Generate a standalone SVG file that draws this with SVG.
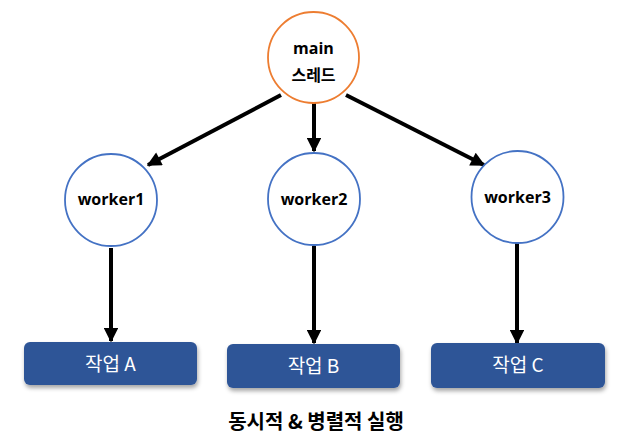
<svg xmlns="http://www.w3.org/2000/svg" width="628" height="448" viewBox="0 0 628 448">
<style>
.bg{fill:#fff}
.worker circle{fill:#fff;stroke:#4472c4;stroke-width:1.8}
.main circle{fill:#fff;stroke:#ed7d31;stroke-width:1.8}
.lbl{font-family:"Open Sans","Noto Sans CJK KR","Noto Sans",sans-serif;font-weight:bold;font-size:16px;fill:#000;text-anchor:middle}
.task rect{fill:#2f5597}
.tasktxt{font-family:"Noto Sans CJK KR","Noto Sans",sans-serif;font-size:19px;fill:#fff;text-anchor:middle}
.conn line{stroke:#000;stroke-width:4}
.title{font-family:"Noto Sans CJK KR","Noto Sans",sans-serif;font-weight:bold;font-size:20px;fill:#000;text-anchor:middle}
</style>
<defs>
<marker id="ah" viewBox="0 0 10 10" refX="9" refY="5" markerWidth="3.8" markerHeight="3.6" orient="auto" markerUnits="strokeWidth">
<path d="M0,0 L10,5 L0,10 z" fill="#000"/>
</marker>
<filter id="sh" x="-10%" y="-20%" width="120%" height="150%">
<feDropShadow dx="1" dy="3" stdDeviation="2" flood-color="#000" flood-opacity="0.35"/>
</filter>
</defs>
<rect class="bg" width="628" height="448"/>
<g id="connectors" class="conn">
<line x1="281" y1="95" x2="148" y2="165" marker-end="url(#ah)"/>
<line x1="314" y1="103" x2="314" y2="151" marker-end="url(#ah)"/>
<line x1="346" y1="95" x2="484" y2="165" marker-end="url(#ah)"/>
<line x1="111" y1="248" x2="111" y2="341" marker-end="url(#ah)"/>
<line x1="314" y1="246" x2="314" y2="343" marker-end="url(#ah)"/>
<line x1="517" y1="243" x2="517" y2="343" marker-end="url(#ah)"/>
</g>
<g id="main" class="main">
<circle cx="313.5" cy="57.5" r="45.5"/>
<text class="lbl" x="313.5" y="54">main</text>
<text class="lbl" x="313.5" y="81">스레드</text>
</g>
<g id="worker1" class="worker">
<circle cx="111" cy="200" r="46"/>
<text class="lbl" x="111" y="205">worker1</text>
</g>
<g id="worker2" class="worker">
<circle cx="314" cy="199" r="46"/>
<text class="lbl" x="314" y="205">worker2</text>
</g>
<g id="worker3" class="worker">
<circle cx="517.5" cy="197" r="46"/>
<text class="lbl" x="517.5" y="203">worker3</text>
</g>
<g id="taskA" class="task">
<rect x="24" y="342" width="173" height="43" rx="6" filter="url(#sh)"/>
<text class="tasktxt" x="110.5" y="371">작업 A</text>
</g>
<g id="taskB" class="task">
<rect x="227" y="344" width="173" height="44" rx="6" filter="url(#sh)"/>
<text class="tasktxt" x="313.5" y="373">작업 B</text>
</g>
<g id="taskC" class="task">
<rect x="431" y="343" width="174" height="45" rx="6" filter="url(#sh)"/>
<text class="tasktxt" x="518" y="372">작업 C</text>
</g>
<text class="title" x="316" y="429">동시적 &amp; 병렬적 실행</text>
</svg>
